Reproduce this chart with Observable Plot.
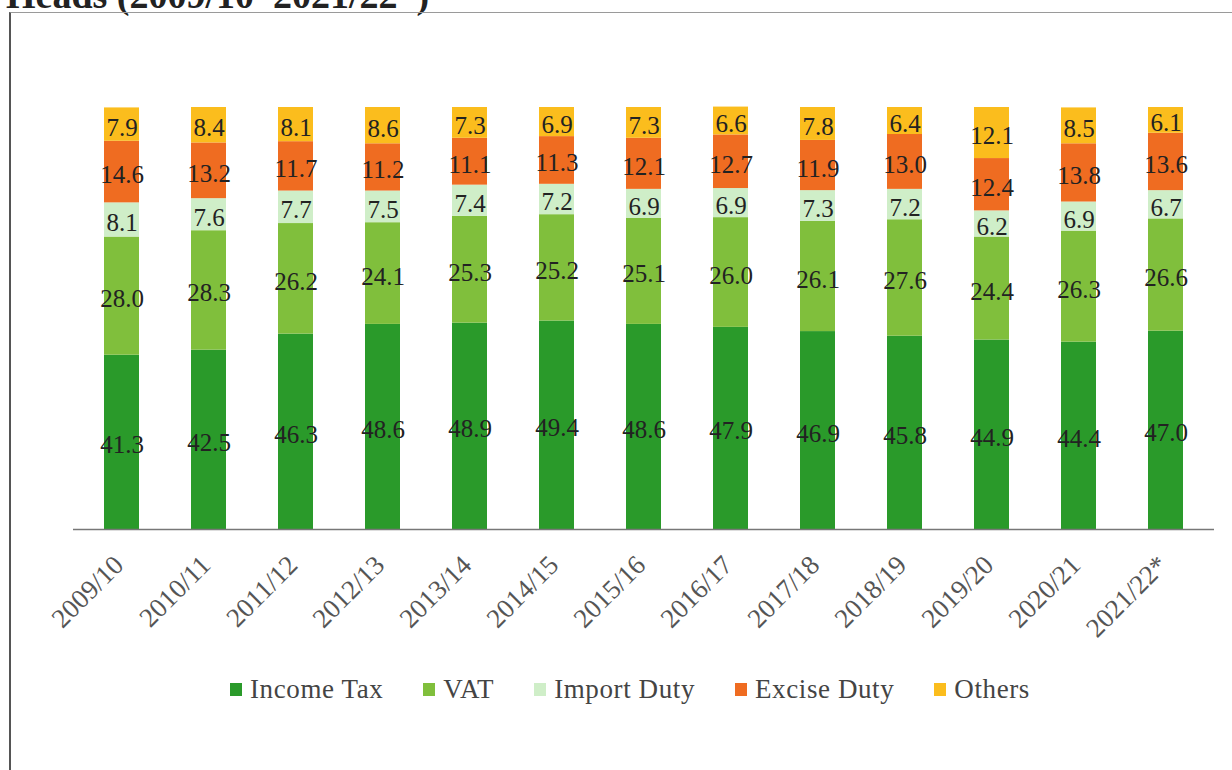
<!DOCTYPE html>
<html>
<head>
<meta charset="utf-8">
<script src="https://cdn.jsdelivr.net/npm/d3@7"></script>
<script src="https://cdn.jsdelivr.net/npm/@observablehq/plot@0.6"></script>
<style>
  html, body { margin: 0; padding: 0; background: #fff; width: 1232px; height: 770px; overflow: hidden; }
  #title { position: absolute; left: 6px; top: -24px; font-family: "Liberation Serif", serif; font-weight: bold; font-size: 38px; line-height: 38px; color: #222; white-space: nowrap; }
  #frame { position: absolute; left: 9px; top: 12px; width: 1400px; height: 900px; border-left: 2px solid #555; border-top: 1.5px solid #9a9a9a; }
  #chart { position: absolute; left: 0; top: 0; }
  #legend { position: absolute; left: 230px; top: 674px; display: flex; align-items: center; font-family: "Liberation Serif", serif; font-size: 27px; color: #444; letter-spacing: 0.6px; white-space: nowrap; }
  .item { display: flex; align-items: center; margin-right: 40px; }
  .sw { width: 12px; height: 13px; margin-right: 8px; }
</style>
</head>
<body>
<div id="title">Heads (2009/10–2021/22*)</div>
<div id="frame"></div>
<div id="chart"></div>
<div id="legend"></div>
<script>
const years = ["2009/10","2010/11","2011/12","2012/13","2013/14","2014/15","2015/16","2016/17","2017/18","2018/19","2019/20","2020/21","2021/22*"];
const seriesNames = ["Income Tax","VAT","Import Duty","Excise Duty","Others"];
const seriesColors = ["#2a9a2a","#80bf3c","#cfeec8","#ef6c21","#fbbd1d"];
const incomeTax = [41.3,42.5,46.3,48.6,48.9,49.4,48.6,47.9,46.9,45.8,44.9,44.4,47.0];
const vat = [28.0,28.3,26.2,24.1,25.3,25.2,25.1,26.0,26.1,27.6,24.4,26.3,26.6];
const importDuty = [8.1,7.6,7.7,7.5,7.4,7.2,6.9,6.9,7.3,7.2,6.2,6.9,6.7];
const exciseDuty = [14.6,13.2,11.7,11.2,11.1,11.3,12.1,12.7,11.9,13.0,12.4,13.8,13.6];
const others = [7.9,8.4,8.1,8.6,7.3,6.9,7.3,6.6,7.8,6.4,12.1,8.5,6.1];

const seriesValues = [incomeTax, vat, importDuty, exciseDuty, others];
const data = [];
seriesNames.forEach((s, i) => {
  years.forEach((y, j) => data.push({year: y, series: s, value: seriesValues[i][j]}));
});

const chart = Plot.plot({
  width: 1232,
  height: 650,
  marginLeft: 73,
  marginRight: 18,
  marginTop: 107,
  marginBottom: 121,
  style: {fontFamily: "'Liberation Serif', serif", background: "transparent"},
  x: {domain: years, paddingInner: 0.6, paddingOuter: 0.3, label: null},
  y: {domain: [0, 100], axis: null},
  color: {domain: seriesNames, range: seriesColors},
  marks: [
    Plot.barY(data, Plot.stackY({x: "year", y: "value", z: "series", order: seriesNames, fill: "series"})),
    Plot.text(data, Plot.stackY({x: "year", y: "value", z: "series", order: seriesNames, text: d => d.value.toFixed(1), fill: "#222", fontSize: 25, dy: 3})),
    Plot.ruleY([0], {stroke: "#777", strokeWidth: 1.5}),
    Plot.axisX({tickRotate: -45, tickSize: 0, tickPadding: 31, dx: -3, fontSize: 27, fill: "#555", label: null})
  ]
});
document.getElementById("chart").appendChild(chart);

const legend = document.getElementById("legend");
seriesNames.forEach((s, i) => {
  const item = document.createElement("div");
  item.className = "item";
  const sw = document.createElement("div");
  sw.className = "sw";
  sw.style.background = seriesColors[i];
  const t = document.createElement("span");
  t.textContent = s;
  item.appendChild(sw);
  item.appendChild(t);
  legend.appendChild(item);
});
</script>
</body>
</html>
